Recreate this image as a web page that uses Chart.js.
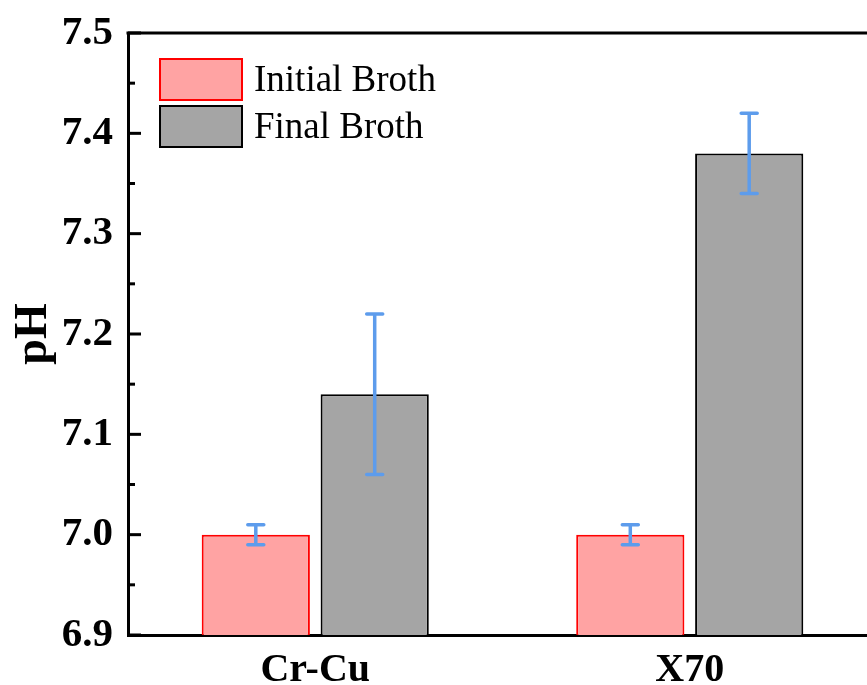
<!DOCTYPE html>
<html>
<head>
<meta charset="utf-8">
<script src="https://cdn.jsdelivr.net/npm/chart.js@4/dist/chart.umd.min.js"></script>
<style>
  html, body { margin: 0; padding: 0; background: #fff; overflow: hidden; }
  #wrap { width: 900px; height: 685px; }
</style>
</head>
<body>
<div id="wrap"><canvas id="c" width="900" height="685"></canvas></div>
<script>
// pH of the culture broth before and after immersion
const categories = ['Cr-Cu', 'X70'];
const seriesNames = ['Initial Broth', 'Final Broth'];
const initialPH = [7.00, 7.00];
const initialErr = [0.01, 0.01];
const finalPH = [7.14, 7.38];
const finalErr = [0.08, 0.04];
const yMin = 6.9, yMax = 7.5, yStep = 0.1;

const serif = '"Liberation Serif", "Times New Roman", serif';
const errColor = '#5d9cec';

// Error bars drawn through the bar elements and the y scale
const errorBars = {
  id: 'errorBars',
  afterDatasetsDraw(chart) {
    const ctx = chart.ctx;
    const y = chart.scales.y;
    ctx.save();
    ctx.strokeStyle = errColor;
    ctx.lineWidth = 3.5;
    ctx.lineCap = 'round';
    chart.data.datasets.forEach((ds, di) => {
      const meta = chart.getDatasetMeta(di);
      meta.data.forEach((bar, i) => {
        const v = ds.data[i], e = ds.errors[i];
        const yt = y.getPixelForValue(v + e);
        const yb = y.getPixelForValue(v - e);
        const x = bar.x, cap = 8;
        ctx.beginPath();
        ctx.moveTo(x, yt); ctx.lineTo(x, yb);
        ctx.moveTo(x - cap, yt); ctx.lineTo(x + cap, yt);
        ctx.moveTo(x - cap, yb); ctx.lineTo(x + cap, yb);
        ctx.stroke();
      });
    });
    ctx.restore();
  }
};

// Inward ticks on the y axis, top frame line and the legend box
const frame = {
  id: 'frame',
  afterDraw(chart) {
    const ctx = chart.ctx;
    const a = chart.chartArea;
    const y = chart.scales.y;
    ctx.save();
    ctx.fillStyle = '#000';
    // top frame line
    ctx.fillRect(a.left - 1.5, a.top - 1.5, a.right - a.left + 1.5, 3);
    // major ticks at each labelled value, minor ticks halfway between
    const vals = y.ticks.map(t => t.value);
    vals.forEach((v, i) => {
      const py = y.getPixelForValue(v);
      ctx.fillRect(a.left, py - 1.5, 13, 3);
      if (i < vals.length - 1) {
        const pm = y.getPixelForValue((v + vals[i + 1]) / 2);
        ctx.fillRect(a.left, pm - 1.5, 7, 3);
      }
    });
    // legend
    const bx = 160, bw = 82, bh = 41;
    const rows = [59, 106];
    ctx.font = '37px ' + serif;
    ctx.textBaseline = 'middle';
    ctx.textAlign = 'left';
    chart.data.datasets.forEach((ds, di) => {
      const top = rows[di];
      ctx.fillStyle = ds.backgroundColor;
      ctx.fillRect(bx, top, bw, bh);
      ctx.lineWidth = 2;
      ctx.strokeStyle = ds.borderColor;
      ctx.strokeRect(bx, top, bw, bh);
      ctx.fillStyle = '#000';
      ctx.fillText(ds.label, 254, top + bh / 2 + 2);
    });
    ctx.restore();
  }
};

new Chart(document.getElementById('c'), {
  type: 'bar',
  data: {
    labels: categories,
    datasets: [
      { label: seriesNames[0], data: initialPH, errors: initialErr,
        backgroundColor: '#ffa3a3', borderColor: '#ff0000', borderWidth: 2,
        categoryPercentage: 0.635, barPercentage: 0.91 },
      { label: seriesNames[1], data: finalPH, errors: finalErr,
        backgroundColor: '#a5a5a5', borderColor: '#000000', borderWidth: 2,
        categoryPercentage: 0.635, barPercentage: 0.91 }
    ]
  },
  options: {
    responsive: false,
    animation: false,
    devicePixelRatio: 1,
    layout: { padding: { top: 33, right: 23, left: 0, bottom: 0 } },
    plugins: { legend: { display: false }, tooltip: { enabled: false } },
    scales: {
      x: {
        grid: { display: false },
        border: { display: true, color: '#000', width: 3 },
        ticks: { color: '#000', font: { family: serif, size: 40, weight: 'bold' }, padding: 4 },
        afterFit(s) { s.height = 50; }
      },
      y: {
        min: yMin, max: yMax,
        grid: { display: false },
        border: { display: true, color: '#000', width: 3 },
        ticks: { stepSize: yStep, color: '#000', padding: 7,
          font: { family: serif, size: 41, weight: 'bold' },
          callback: (v) => Number(v).toFixed(1) },
        title: { display: true, text: 'pH', color: '#000',
          font: { family: serif, size: 46, weight: 'bold' }, padding: { top: 7, bottom: 0 } },
        afterFit(s) { s.width = 128; }
      }
    }
  },
  plugins: [errorBars, frame]
});
</script>
</body>
</html>
